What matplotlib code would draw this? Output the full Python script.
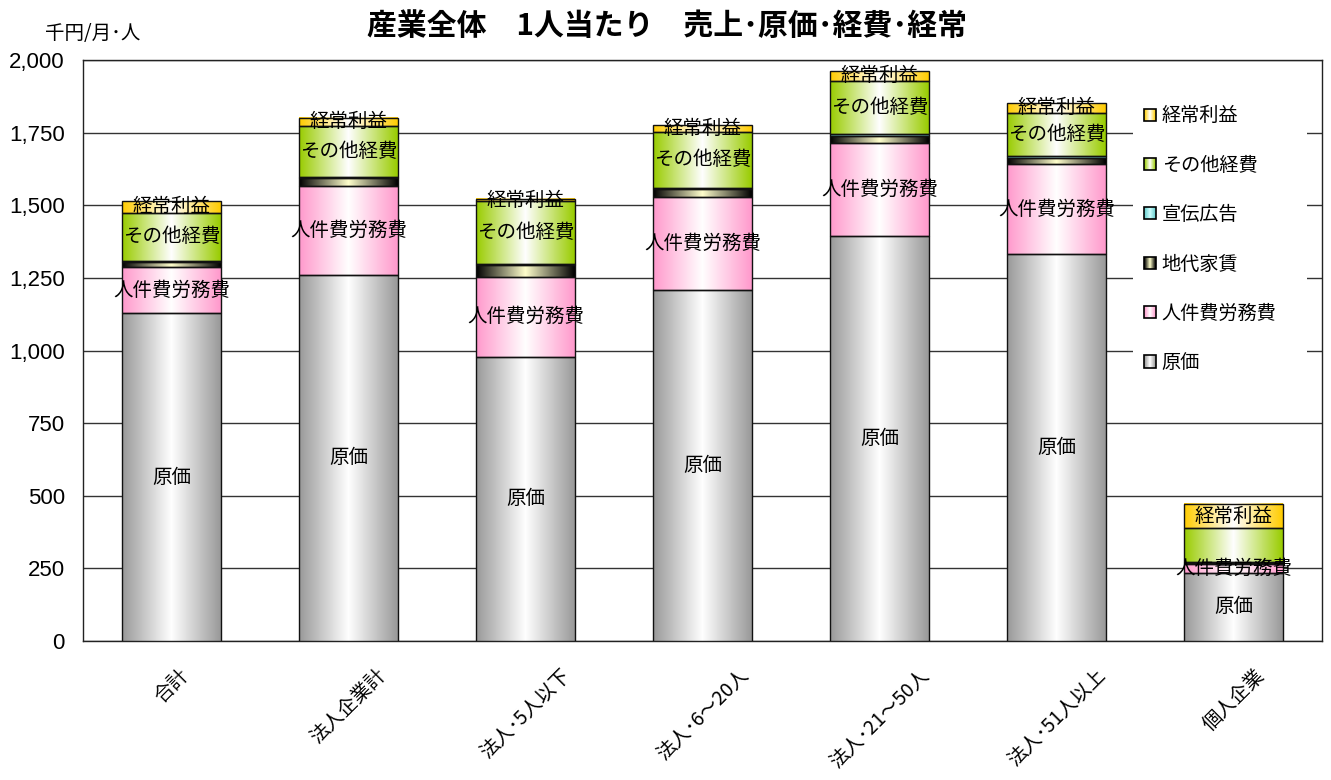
import numpy as np
import matplotlib
matplotlib.use('Agg')
import matplotlib.pyplot as plt
from matplotlib.colors import to_rgb
from matplotlib.patches import Rectangle
from matplotlib.ticker import FuncFormatter, FixedLocator
from matplotlib.legend_handler import HandlerBase

plt.rcParams['font.family'] = ['Noto Sans CJK JP', 'DejaVu Sans']

categories = ['合計', '法人企業計', '法人･5人以下', '法人･6～20人', '法人･21～50人', '法人･51人以上', '個人企業']
series_names = ['原価', '人件費労務費', '地代家賃', '宣伝広告', 'その他経費', '経常利益']
genka = [1129, 1260, 979, 1208, 1394, 1332, 235]
jinken = [157, 306, 275, 319, 319, 310, 30]
chidai = [20, 27, 40, 28, 27, 19, 5]
senden = [3, 5, 4, 5, 5, 9, 2]
sonota = [166, 174, 216, 193, 184, 149, 116]
keijo = [40, 30, 7, 23, 33, 34, 83]
yticks = [0, 250, 500, 750, 1000, 1250, 1500, 1750, 2000]

series_values = [genka, jinken, chidai, senden, sonota, keijo]
# (edge colour, centre colour) for horizontal gradient
grad_colors = [('#999999', '#FFFFFF'), ('#FF99CC', '#FFFFFF'), ('#000000', '#FFFFCC'),
               ('#66CCCC', '#CCFFFF'), ('#99CC00', '#FFFFFF'), ('#FFCC00', '#FFFFFF')]
labelled = {'原価', '人件費労務費', 'その他経費', '経常利益'}
hidden_labels = {('個人企業', 'その他経費')}

W, H = 1331, 780
fig = plt.figure(figsize=(W / 100, H / 100), dpi=100)
ax = fig.add_axes([83 / W, 1 - 641 / H, (1322 - 83) / W, (641 - 60) / H])
ax.set_xlim(-0.5, len(categories) - 0.5)
ax.set_ylim(0, 2000)


def grad_array(c_edge, c_center, n=256, peak=0.5):
    e = np.array(to_rgb(c_edge))
    c = np.array(to_rgb(c_center))
    t = np.linspace(0, 1, n)
    w = np.where(t <= peak, t / peak, (1 - t) / (1 - peak))
    arr = e[None, :] * (1 - w[:, None]) + c[None, :] * w[:, None]
    return arr[None, :, :]


bar_w = 0.554
x = np.arange(len(categories))
bottoms = np.zeros(len(categories))
for name, vals, (ce, cc) in zip(series_names, series_values, grad_colors):
    vals = np.array(vals, dtype=float)
    bars = ax.bar(x, vals, bar_w, bottom=bottoms, facecolor='none',
                  edgecolor='#111111', linewidth=1.0, zorder=4)
    img = grad_array(ce, cc)
    for i, p in enumerate(bars.patches):
        x0, y0 = p.get_x(), p.get_y()
        ax.imshow(img, extent=[x0, x0 + p.get_width(), y0, y0 + p.get_height()],
                  aspect='auto', interpolation='bilinear', zorder=3)
        if name in labelled and (categories[i], name) not in hidden_labels:
            ax.text(x0 + p.get_width() / 2, y0 + p.get_height() / 2, name,
                    ha='center', va='center', fontsize=14, color='black', zorder=6)
    bottoms += vals

ax.set_xlim(-0.5, len(categories) - 0.5)
ax.set_ylim(0, 2000)
ax.yaxis.set_major_locator(FixedLocator(yticks))
ax.yaxis.set_major_formatter(FuncFormatter(lambda v, p: f'{int(v):,}'))
ax.grid(axis='y', color='#333333', linewidth=1.0, zorder=1)
ax.set_axisbelow(True)
ax.tick_params(axis='y', length=0, pad=13, labelsize=16)
for lab in ax.get_yticklabels():
    lab.set_family(['Liberation Sans', 'DejaVu Sans'])
ax.set_xticks(x)
ax.set_xticklabels(categories, rotation=45, ha='center', va='top', fontsize=14)
ax.tick_params(axis='x', length=0, pad=17)
for s in ax.spines.values():
    s.set_color('#222222')
    s.set_linewidth(1.0)

# white box behind legend
ax.add_patch(Rectangle((1133 / W, 1 - 382 / H), (1307 - 1133) / W, (382 - 92) / H,
                       transform=fig.transFigure, facecolor='white', edgecolor='none',
                       zorder=2, clip_on=False))


class GradProxy:
    def __init__(self, ce, cc):
        self.ce, self.cc = ce, cc


class GradHandler(HandlerBase):
    def create_artists(self, legend, orig_handle, xdescent, ydescent, width, height, fontsize, trans):
        arts = []
        n = 12
        img = grad_array(orig_handle.ce, orig_handle.cc, n=n)[0]
        sw = width / n
        for k in range(n):
            r = Rectangle((-xdescent + k * sw, -ydescent), sw * 1.05, height,
                          facecolor=img[k], edgecolor='none', transform=trans)
            arts.append(r)
        arts.append(Rectangle((-xdescent, -ydescent), width, height, facecolor='none',
                              edgecolor='black', linewidth=1.2, transform=trans))
        return arts


handles = [GradProxy(ce, cc) for ce, cc in grad_colors][::-1]
leg = fig.legend(handles, series_names[::-1], handler_map={GradProxy: GradHandler()},
                 loc='upper left', bbox_to_anchor=(1131 / W, 1 - 92 / H),
                 frameon=False, fontsize=13.8, handlelength=0.6, handleheight=0.6,
                 handletextpad=0.3, labelspacing=1.48, borderpad=0.2)

fig.text(667 / W, 1 - 26 / H, '産業全体　1人当たり　売上･原価･経費･経常',
         ha='center', va='center', fontsize=21.5, fontweight='bold')
fig.text(45 / W, 1 - 33 / H, '千円/月･人', ha='left', va='center', fontsize=14)

fig.savefig('out.png', dpi=100)
